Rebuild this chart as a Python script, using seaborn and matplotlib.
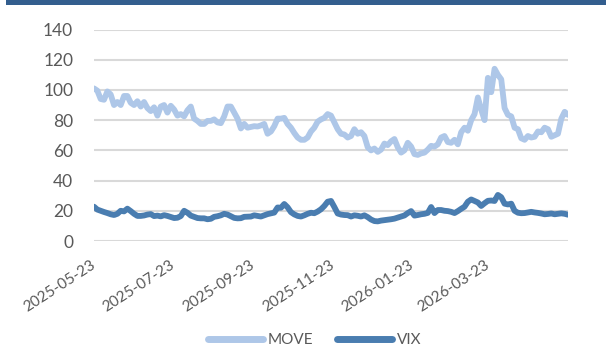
import matplotlib
matplotlib.use("Agg")
import matplotlib.pyplot as plt
from matplotlib.lines import Line2D
from matplotlib.patches import Rectangle
import pandas as pd
import seaborn as sns

# Sampling window of the two volatility indices
start_date = "2025-05-23"
end_date = "2026-05-23"

# ICE BofA MOVE index
move = [101, 99.5, 94, 93.5, 99, 97, 90, 92, 90, 96,
        96, 91.5, 90, 92.5, 89, 92, 88, 86, 88.5, 83,
        89, 90, 85, 89.5, 87, 83, 84, 82.5, 86.5, 89,
        81, 79.5, 77.5, 77.5, 79.5, 79.5, 80.5, 78.5, 78, 82.5,
        89, 89, 85, 81, 74.5, 77.5, 75, 75.5, 76, 75.8,
        76.5, 77.5, 71, 72.5, 76, 81, 81, 81.5, 77.5, 75,
        71.5, 68.5, 67, 67, 68.5, 72.5, 75, 79, 80.5, 81.5,
        84, 83, 78.5, 74, 71, 70.5, 68.5, 69.5, 74, 71,
        72, 69.5, 62, 60, 61.2, 59, 60.5, 64.5, 63.5, 66,
        67.5, 62, 58.5, 60, 65, 62.5, 57.5, 57, 58, 58.5,
        60.5, 63, 62.5, 64, 68.5, 69.5, 65.5, 65, 67, 64,
        72, 75, 73, 80, 84, 95, 87, 80, 108, 98.5,
        114, 110, 107, 88, 83.5, 82.5, 75, 74, 68, 67,
        69.5, 68.5, 69, 72.5, 72, 75, 74, 69, 70, 71,
        81, 85.5, 83.5]

# CBOE VIX index
vix = [22.7, 20.8, 20, 19.2, 18.5, 17.7, 17.2, 18, 20, 19.6,
       21.4, 19.8, 18, 16.6, 16.6, 16.9, 17.5, 17.8, 16.5, 16.8,
       16.3, 17.1, 16.6, 15.9, 15.2, 15.4, 16.5, 20, 18.7, 16.8,
       16, 15.2, 15, 15, 14.4, 14.7, 16, 16.4, 17, 18,
       17.5, 16.4, 15.3, 15, 15.1, 16, 16.1, 16.2, 17, 16.6,
       16.2, 17, 17.8, 18.3, 18.8, 22.2, 22, 24.5, 22.3, 19.1,
       17.6, 16.6, 16.2, 17, 18, 18.7, 18.4, 19.5, 21, 23.2,
       26, 26.5, 22.5, 18.2, 17.5, 17.2, 17.1, 16.2, 17, 16.7,
       16.2, 17, 15.8, 14.2, 13.2, 13, 13.5, 13.8, 14.1, 14.4,
       14.8, 15.5, 16.2, 16.9, 18.5, 19.8, 16.8, 17.2, 17.7, 18,
       18.6, 22.5, 18.5, 20.5, 20.5, 20, 19.8, 19.3, 18.5, 19.8,
       21.3, 22.7, 26, 27.5, 26.5, 25.5, 23.2, 25, 26.6, 26.8,
       26.5, 30.5, 29, 24.7, 24.2, 24.7, 20, 18.7, 18.4, 18.5,
       18.9, 19.3, 18.9, 18.6, 18.2, 17.7, 17.9, 18.2, 17.7, 18,
       18.3, 18, 17.4]

series_names = ["MOVE", "VIX"]
series_colors = ["#AEC7E8", "#4A7DB0"]
tick_labels = ["2025-05-23", "2025-07-23", "2025-09-23",
               "2025-11-23", "2026-01-23", "2026-03-23"]
y_ticks = [0, 20, 40, 60, 80, 100, 120, 140]

dates = pd.date_range(start_date, end_date, periods=len(move))
wide = pd.DataFrame({"date": dates, series_names[0]: move, series_names[1]: vix})
df = wide.melt("date", var_name="series", value_name="level")
palette = dict(zip(series_names, series_colors))

sns.set_theme(style="white")
plt.rcParams["font.family"] = ["Lato", "DejaVu Sans"]

W, H = 615, 354
fig = plt.figure(figsize=(W / 100, H / 100), dpi=100)
ax = fig.add_axes([94 / W, 113 / H, 474 / W, 211.5 / H])

sns.lineplot(data=df, x="date", y="level", hue="series", palette=palette,
             linewidth=4.2, ax=ax, legend=False,
             solid_joinstyle="round", solid_capstyle="round")

ax.set_ylim(0, 140)
ax.set_yticks(y_ticks)
ax.set_xlim(dates[0], dates[-1])
ax.set_xticks(pd.to_datetime(tick_labels))
ax.set_xticklabels(tick_labels, rotation=33, ha="right", va="center",
                   rotation_mode="anchor")
ax.set_xlabel("")
ax.set_ylabel("")

ax.yaxis.grid(True, color="#D9D9D9", linewidth=1.5)
ax.xaxis.grid(False)
ax.set_axisbelow(True)
for s in ax.spines.values():
    s.set_visible(False)
ax.tick_params(axis="y", length=0, pad=15, labelsize=12.5, labelcolor="#595959")
ax.tick_params(axis="x", length=0, pad=16, labelsize=11, labelcolor="#595959")

handles = [Line2D([], [], color=c, linewidth=5, solid_capstyle="round")
           for c in series_colors]
fig.legend(handles, series_names, loc="center", ncol=2, frameon=False,
           bbox_to_anchor=(0.5114, 14 / H), fontsize=11, handlelength=3.6,
           handletextpad=0.3, columnspacing=1.6, labelcolor="#595959")

# Title band across the top edge
fig.add_artist(Rectangle((6 / W, 1 - 5 / H), 600 / W, 5 / H,
                         transform=fig.transFigure, color="#335E8E", lw=0))

fig.savefig("out.png", dpi=100)
